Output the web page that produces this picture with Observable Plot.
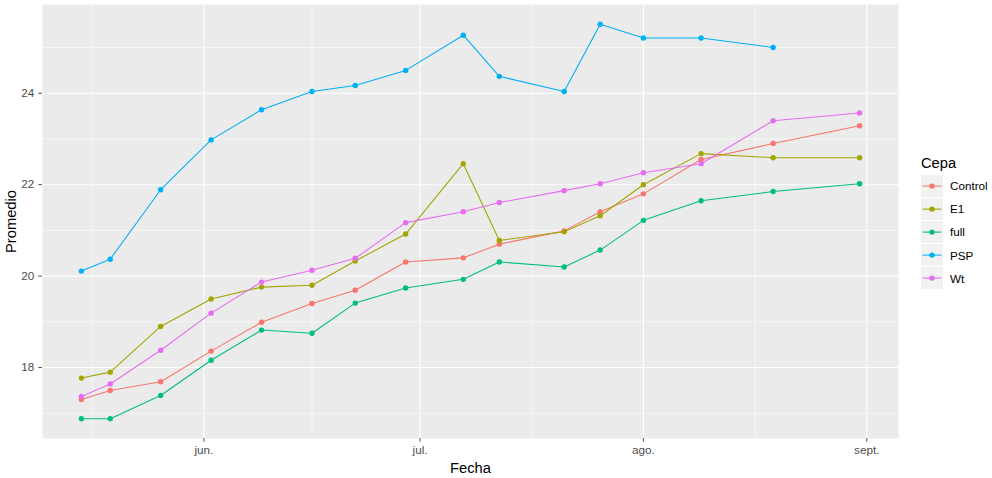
<!DOCTYPE html>
<html><head><meta charset="utf-8">
<script src="https://cdn.jsdelivr.net/npm/d3@7"></script>
<script src="https://cdn.jsdelivr.net/npm/@observablehq/plot@0.6"></script>
<style>
body{margin:0;background:#fff;}
#wrap{position:relative;width:992px;height:478px;font-family:"Liberation Sans",Arial,sans-serif;}
#wrap svg{display:block;}
g[aria-label="y-axis label"], g[aria-label="x-axis label"]{fill:#000;font-size:14.7px;}
#legend{position:absolute;left:921px;top:155px;font-family:"Liberation Sans",Arial,sans-serif;}
#legend .t{font-size:14.7px;color:#000;margin-bottom:3px;}
#legend .row{display:flex;align-items:center;height:23.2px;}
#legend .row svg{margin-right:7px;}
#legend .row span{font-size:11.7px;color:#000;}
</style></head><body><div id="wrap"></div>
<script>
const fechas = ["2021-05-15","2021-05-19","2021-05-26","2021-06-02","2021-06-09","2021-06-16","2021-06-22","2021-06-29","2021-07-07","2021-07-12","2021-07-21","2021-07-26","2021-08-01","2021-08-09","2021-08-19","2021-08-31"];
const cepas = ["Control","E1","full","PSP","Wt"];
const colores = ["#F8766D","#A3A500","#00BF7D","#00B0F6","#E76BF3"];
const control = [17.30,17.50,17.69,18.36,18.99,19.40,19.69,20.31,20.40,20.70,20.99,21.41,21.80,22.55,22.90,23.29];
const e1      = [17.77,17.90,18.90,19.50,19.76,19.80,20.33,20.92,22.46,20.78,20.97,21.32,22.00,22.68,22.59,22.59];
const full    = [16.88,16.88,17.39,18.16,18.82,18.75,19.41,19.74,19.93,20.31,20.20,20.57,21.22,21.65,21.85,22.02];
const psp     = [20.11,20.37,21.89,22.98,23.64,24.04,24.17,24.50,25.27,24.37,24.04,25.51,25.21,25.21,25.00,null];
const wt      = [17.37,17.64,18.38,19.19,19.87,20.13,20.39,21.17,21.41,21.61,21.87,22.02,22.26,22.46,23.40,23.57];
const yMayores = [18,20,22,24];
const yMenores = [17,19,21,23,25];
const xMayores = ["2021-06-01","2021-07-01","2021-08-01","2021-09-01"];
const xEtiquetas = ["jun.","jul.","ago.","sept."];
const xMenores = ["2021-05-16T12:00Z","2021-06-16","2021-07-16T12:00Z","2021-08-16T12:00Z"];

const series = [control,e1,full,psp,wt];
const datos = [];
series.forEach((s,k)=>s.forEach((v,i)=>{ if(v!=null) datos.push({Fecha:new Date(fechas[i]),Promedio:v,Cepa:cepas[k]}); }));

const ext = (a,f)=>{const [lo,hi]=d3.extent(a,f); const p=(hi-lo)*0.05; return [lo-p,hi+p];};
const xe = ext(datos,d=>+d.Fecha);
const xDomain = [new Date(xe[0]), new Date(xe[1])];
const yDomain = ext(datos,d=>d.Promedio);
const etq = new Map(xMayores.map((d,i)=>[+new Date(d),xEtiquetas[i]]));

const chart = Plot.plot({
  width:992, height:478,
  marginLeft:42, marginRight:94, marginTop:4, marginBottom:40,
  style:{fontFamily:'"Liberation Sans",Arial,sans-serif',background:"white"},
  x:{type:"utc",domain:xDomain},
  y:{domain:yDomain},
  color:{domain:cepas,range:colores},
  marks:[
    Plot.frame({fill:"#EBEBEB"}),
    Plot.ruleY(yMenores,{stroke:"white",strokeWidth:0.55}),
    Plot.ruleX(xMenores.map(d=>new Date(d)),{stroke:"white",strokeWidth:0.55}),
    Plot.ruleY(yMayores,{stroke:"white",strokeWidth:1.1}),
    Plot.ruleX(xMayores.map(d=>new Date(d)),{stroke:"white",strokeWidth:1.1}),
    Plot.axisY({ticks:yMayores,tickSize:3.7,tickPadding:4.5,tickFormat:d=>String(d),fontSize:11.7,color:"#4D4D4D",label:"Promedio",labelAnchor:"center",labelArrow:"none",labelOffset:37}),
    Plot.axisX({ticks:xMayores.map(d=>new Date(d)),tickSize:3.7,tickPadding:3,tickFormat:d=>etq.get(+d),fontSize:11.7,color:"#4D4D4D",label:"Fecha",labelAnchor:"center",labelArrow:"none",labelOffset:34}),
    Plot.line(datos,{x:"Fecha",y:"Promedio",stroke:"Cepa",strokeWidth:1.07}),
    Plot.dot(datos,{x:"Fecha",y:"Promedio",fill:"Cepa",r:2.7})
  ]
});
const wrap = document.getElementById("wrap");
wrap.appendChild(chart);

const leg = document.createElement("div");
leg.id = "legend";
let html = '<div class="t">Cepa</div>';
cepas.forEach((c,i)=>{
  html += `<div class="row"><svg width="22" height="22.2"><rect width="22" height="22.2" fill="#F2F2F2"/><line x1="1.5" x2="20.5" y1="11.1" y2="11.1" stroke="${colores[i]}" stroke-width="1.07"/><circle cx="11" cy="11.1" r="2.7" fill="${colores[i]}"/></svg><span>${c}</span></div>`;
});
leg.innerHTML = html;
wrap.appendChild(leg);
</script></body></html>
